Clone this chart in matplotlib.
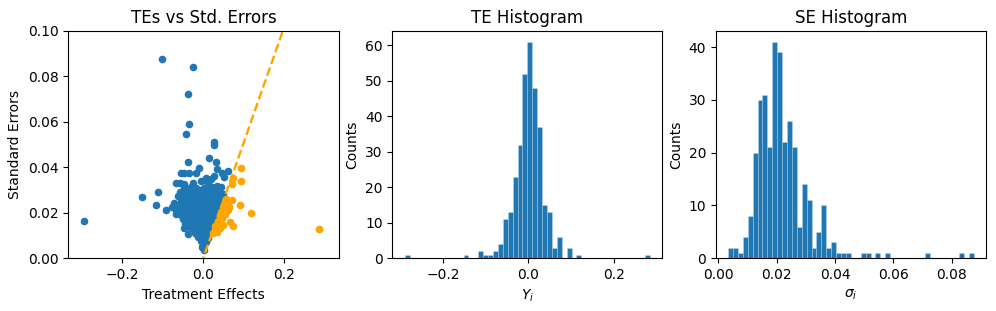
import numpy as np
import matplotlib
matplotlib.use('Agg')
import matplotlib.pyplot as plt

# scatter data: treatment effects and their standard errors
te_outer = [-0.2935, -0.1515, -0.112, -0.116, -0.1016, -0.026, -0.038, -0.036, -0.0426,
            0.026, 0.026, 0.0148, -0.038, -0.0113, 0.032, 0.033, 0.0615, 0.0467,
            -0.0556, -0.0467, -0.0344, -0.0187, 0.006, 0.004, 0.026, 0.0517, 0.019,
            -0.067, -0.058, -0.048, -0.0246, -0.005, 0.0123, 0.033, 0.0435,
            -0.092, -0.077, -0.071, -0.067, -0.046, -0.038, 0.0, 0.0, -0.002, 0.001]
se_outer = [0.0165, 0.0271, 0.0293, 0.0234, 0.0876, 0.0842, 0.0722, 0.0590, 0.0546,
            0.0513, 0.0500, 0.0443, 0.0424, 0.0399, 0.0425, 0.0394, 0.0384, 0.0377,
            0.0373, 0.0373, 0.0373, 0.0373, 0.0355, 0.0344, 0.0362, 0.0356, 0.0350,
            0.0333, 0.0330, 0.0328, 0.0333, 0.0340, 0.0326, 0.0318, 0.0312,
            0.0211, 0.0227, 0.0245, 0.0195, 0.0133, 0.0107, 0.0057, 0.0044, 0.0050, 0.0038]

# dense core, row by row
te_core = [-0.048, -0.037, -0.029, -0.018, -0.008, 0.002, 0.011, 0.021, 0.029,
           -0.056, -0.046, -0.034, -0.026, -0.014, -0.004, 0.006, 0.016, 0.024, 0.038, 0.048,
           -0.061, -0.051, -0.041, -0.031, -0.021, -0.011, -0.001, 0.009, 0.019, 0.029, 0.041, 0.049,
           -0.054, -0.044, -0.036, -0.024, -0.016, -0.006, 0.004, 0.014, 0.026, 0.034, 0.044,
           -0.059, -0.049, -0.039, -0.031, -0.019, -0.009, 0.001, 0.011, 0.019, 0.029, 0.039,
           -0.066, -0.056, -0.044, -0.036, -0.024, -0.014, -0.004, 0.006, 0.014, 0.026, 0.034,
           -0.054, -0.046, -0.034, -0.026, -0.016, -0.006, 0.004, 0.016, 0.024, 0.031,
           -0.049, -0.041, -0.029, -0.021, -0.011, -0.001, 0.009, 0.019, 0.027,
           -0.044, -0.034, -0.026, -0.014, -0.006, 0.004, 0.014, 0.022,
           -0.031, -0.021, -0.009, 0.001, 0.009, 0.018,
           -0.019, -0.011, -0.002, 0.008, 0.016,
           -0.012, -0.004, 0.004, 0.011,
           -0.005, 0.003, 0.008]
se_core = [0.0312, 0.0305, 0.0315, 0.0308, 0.0302, 0.0311, 0.0306, 0.0314, 0.0303,
           0.0292, 0.0287, 0.0295, 0.0289, 0.0293, 0.0286, 0.0291, 0.0288, 0.0294, 0.0285, 0.0281,
           0.0272, 0.0268, 0.0275, 0.0266, 0.0271, 0.0269, 0.0274, 0.0267, 0.0273, 0.0265, 0.0270, 0.0262,
           0.0252, 0.0247, 0.0254, 0.0249, 0.0253, 0.0246, 0.0251, 0.0248, 0.0255, 0.0245, 0.0244,
           0.0232, 0.0228, 0.0235, 0.0226, 0.0231, 0.0229, 0.0234, 0.0227, 0.0233, 0.0225, 0.0224,
           0.0212, 0.0207, 0.0215, 0.0209, 0.0213, 0.0206, 0.0211, 0.0208, 0.0214, 0.0205, 0.0204,
           0.0192, 0.0187, 0.0194, 0.0189, 0.0193, 0.0186, 0.0191, 0.0188, 0.0190, 0.0185,
           0.0172, 0.0167, 0.0174, 0.0169, 0.0173, 0.0166, 0.0171, 0.0168, 0.0170,
           0.0152, 0.0147, 0.0154, 0.0149, 0.0153, 0.0146, 0.0151, 0.0150,
           0.0132, 0.0128, 0.0134, 0.0127, 0.0131, 0.0133,
           0.0112, 0.0108, 0.0114, 0.0109, 0.0111,
           0.0092, 0.0088, 0.0094, 0.0089,
           0.0076, 0.0073, 0.0072]

# points right of the significance line
te_right = [0.2846, 0.1173, 0.092, 0.093, 0.0723, 0.0713, 0.0698, 0.090, 0.0657, 0.0738,
            0.045, 0.053, 0.062, 0.049, 0.0575, 0.041, 0.037, 0.049, 0.041, 0.033,
            0.0467, 0.053, 0.063, 0.028, 0.030, 0.036, 0.044, 0.025, 0.055, 0.052]
se_right = [0.0130, 0.0200, 0.0399, 0.0342, 0.0355, 0.0325, 0.0256, 0.0235, 0.0161, 0.0140,
            0.0151, 0.0236, 0.0212, 0.0227, 0.0235, 0.0190, 0.0154, 0.0146, 0.0132, 0.0117,
            0.0176, 0.0195, 0.0225, 0.0125, 0.0140, 0.0165, 0.0205, 0.0110, 0.0260, 0.0215]

# histogram counts (50 bins each)
te_range = (-0.290, 0.285)
te_counts = [1, 0, 0, 0, 0, 0, 0, 0, 0, 0, 0, 0, 1, 0, 0, 2, 1, 1, 2, 4,
             11, 13, 23, 32, 52, 61, 48, 37, 15, 13, 3, 6, 0, 3, 0, 1, 0, 0, 0, 0,
             0, 0, 0, 0, 0, 0, 0, 0, 0, 1]
se_range = (0.0033, 0.0876)
se_counts = [2, 2, 1, 4, 8, 20, 30, 31, 21, 41, 39, 22, 26, 21, 6, 14, 11, 2, 5, 10,
             2, 3, 1, 1, 1, 0, 0, 1, 1, 0, 1, 0, 1, 0, 0, 0, 0, 0, 0, 0,
             1, 0, 0, 0, 0, 0, 0, 1, 0, 1]

te = np.array(te_outer + te_core + te_right)
se = np.array(se_outer + se_core + se_right)
sig = te / se > 1.96

fig = plt.figure(figsize=(9.96, 3.11), dpi=100)
ax1 = fig.add_axes([0.0686, 0.1695, 0.2716, 0.7309])
ax2 = fig.add_axes([0.3939, 0.1695, 0.2711, 0.7309])
ax3 = fig.add_axes([0.7186, 0.1695, 0.2714, 0.7309])

ax1.scatter(te[~sig], se[~sig], s=20, color='C0')
ax1.scatter(te[sig], se[sig], s=20, color='orange')
line_x = np.array([-0.3, 0.3])
ax1.plot(line_x, line_x / 1.96, '--', color='orange', linewidth=1.7)
ax1.set_xlim(-0.332, 0.334)
ax1.set_ylim(0, 0.1)
ax1.set_title('TEs vs Std. Errors')
ax1.set_xlabel('Treatment Effects')
ax1.set_ylabel('Standard Errors')

te_edges = np.linspace(te_range[0], te_range[1], len(te_counts) + 1)
ax2.hist(te_edges[:-1], bins=te_edges, weights=te_counts, color='C0',
         edgecolor=(1, 1, 1, 0.35), linewidth=0.4)
ax2.set_title('TE Histogram')
ax2.set_xlabel('$Y_i$')
ax2.set_ylabel('Counts')

se_edges = np.linspace(se_range[0], se_range[1], len(se_counts) + 1)
ax3.hist(se_edges[:-1], bins=se_edges, weights=se_counts, color='C0',
         edgecolor=(1, 1, 1, 0.35), linewidth=0.4)
ax3.set_title('SE Histogram')
ax3.set_xlabel(r'$\sigma_i$')
ax3.set_ylabel('Counts')

plt.savefig('out.png', dpi=100)
